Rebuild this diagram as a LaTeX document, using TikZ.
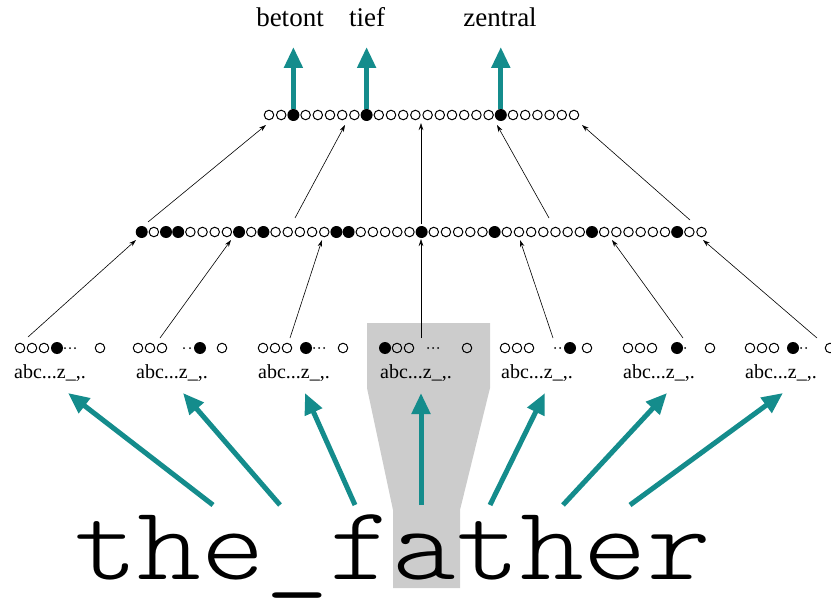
\documentclass[tikz,border=0pt]{standalone}
\usepackage{fontspec}
\usepackage{graphicx}
\setmainfont{Liberation Serif}
\newfontfamily\wordfont{Latin Modern Mono Light}
\usetikzlibrary{arrows.meta}
\definecolor{tealc}{RGB}{20,140,140}
\definecolor{windowgray}{RGB}{204,204,204}
\begin{document}
\begin{tikzpicture}[x=1pt,y=-1pt,
  oc/.style={circle,draw,line width=1pt,minimum size=9.5pt,inner sep=0pt},
  fc/.style={circle,fill=black,minimum size=12pt,inner sep=0pt},
  dotc/.style={circle,fill=black,minimum size=2pt,inner sep=0pt},
  thinarrow/.style={-{Stealth[length=7pt,width=4.5pt]},line width=0.6pt},
  bigarrow/.style={-{Triangle[length=21pt,width=18pt]},line width=5pt,draw=tealc},
  lab/.style={font=\fontsize{27}{30}\selectfont,inner sep=0pt,anchor=base},
  abc/.style={font=\fontsize{20}{22}\selectfont,inner sep=0pt,anchor=base west},
]
\useasboundingbox (0,0) rectangle (831,602);
% shaded window
\fill[windowgray] (367,323) -- (490,323) -- (490,388) -- (460,510) -- (460,588)
  -- (393,588) -- (393,510) -- (367,388) -- cycle;

% top layer
\foreach \i in {0,...,25} {
  \pgfmathsetmacro\xx{269+12.2*\i}
  \node[oc] (t\i) at (\xx,115) {};
}
\foreach \i in {2,8,19} { \node[fc] (tf\i) at (t\i) {}; }

% middle layer
\foreach \i in {0,...,46} {
  \pgfmathsetmacro\xx{141.7+12.17*\i}
  \node[oc] (m\i) at (\xx,232) {};
}
\foreach \i in {0,2,3,8,10,16,17,23,29,37,44} { \node[fc] (mf\i) at (m\i) {}; }

% bottom groups: open circles
\foreach \n/\x in {a1/20,a2/32,a3/44,a4/100,
                   b1/138,b2/150,b3/162,b4/222,
                   c1/263,c2/275,c3/287,c4/343,
                   d2/397,d3/409,d4/467,
                   e1/505,e2/517,e3/529,e4/587,
                   f1/628,f2/640,f3/652,f4/710,
                   g1/750,g2/762,g3/774,g4/830} {
  \node[oc] (\n) at (\x,348) {};
}
% bottom groups: filled circles
\foreach \n/\x in {af/57,bf/200,cf/306,df/385,ef/570,ff/677,gf/793} {
  \node[fc] (\n) at (\x,348) {};
}
% bottom groups: dots
\foreach \n/\x in {ad1/65,ad2/70,ad3/75,bd1/184,bd2/190,cd1/314,cd2/319,cd3/324,
                   dd1/428,dd2/433,dd3/438,ed1/555,ed2/560,fd1/685,gd1/801,gd2/806} {
  \node[dotc] (\n) at (\x,348) {};
}
% bottom labels
\foreach \n/\x in {la/14,lb/136,lc/258,ld/380,le/501,lf/623,lg/745} {
  \node[abc] (\n) at (\x,378) {abc...z\_,.};
}

% word
\node[anchor=base west,inner sep=0pt] (word) at (74,579)
  {\scalebox{1.156}[1]{\fontsize{105}{110}\selectfont\wordfont the\_father}};

% output labels
\node[lab] (betont) at (290,27) {betont};
\node[lab] (tief) at (367,27) {tief};
\node[lab] (zentral) at (500,27) {zentral};

% coordinates for connectors
\coordinate (s1) at (28,337);  \coordinate (e1m) at (136,240);
\coordinate (s2) at (160,338); \coordinate (e2m) at (231,240);
\coordinate (s3) at (290,338); \coordinate (e3m) at (322,240);
\coordinate (s4) at (421,338); \coordinate (e4m) at (421,239);
\coordinate (s5) at (553,338); \coordinate (e5m) at (520,240);
\coordinate (s6) at (683,338); \coordinate (e6m) at (612,240);
\coordinate (s7) at (817,338); \coordinate (e7m) at (703,240);

\coordinate (u1) at (148,222); \coordinate (v1) at (266,125);
\coordinate (u2) at (295,218); \coordinate (v2) at (345,125);
\coordinate (u3) at (421,224); \coordinate (v3) at (421,123);
\coordinate (u4) at (549,218); \coordinate (v4) at (497,125);
\coordinate (u5) at (690,220); \coordinate (v5) at (582,125);

\foreach \i in {1,...,7} { \draw[thinarrow] (s\i) -- (e\i m); }
\foreach \i in {1,...,5} { \draw[thinarrow] (u\i) -- (v\i); }

% teal arrows from word to groups
\coordinate (w1) at (213,505); \coordinate (h1) at (68,393);
\coordinate (w2) at (280,505); \coordinate (h2) at (183,393);
\coordinate (w3) at (355,505); \coordinate (h3) at (305,393);
\coordinate (w4) at (421,505); \coordinate (h4) at (421,393);
\coordinate (w5) at (490,505); \coordinate (h5) at (545,393);
\coordinate (w6) at (563,505); \coordinate (h6) at (667,393);
\coordinate (w7) at (630,505); \coordinate (h7) at (783,393);
\foreach \i in {1,...,7} { \draw[bigarrow] (w\i) -- (h\i); }

% teal arrows to labels
\draw[bigarrow] (tf2.north) -- (tf2.north |- 0,47);
\draw[bigarrow] (tf8.north) -- (tf8.north |- 0,47);
\draw[bigarrow] (tf19.north) -- (tf19.north |- 0,47);
\end{tikzpicture}
\end{document}
